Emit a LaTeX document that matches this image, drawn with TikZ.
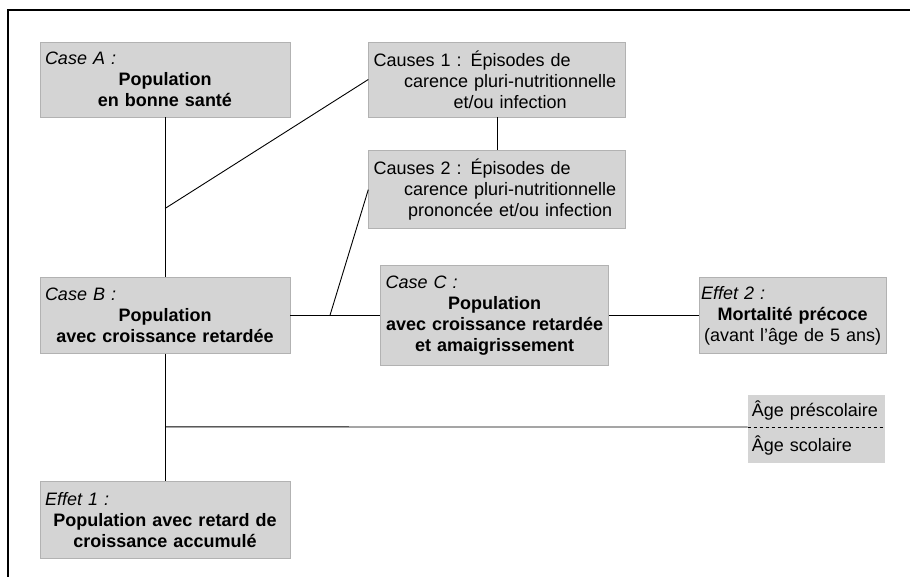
\documentclass[tikz,border=0pt]{standalone}
\usepackage{fontspec}
\setmainfont{Liberation Sans}
\usetikzlibrary{positioning,calc}

\begin{document}
\begin{tikzpicture}[
        x=1pt, y=1pt,
        every node/.style={font=\fontsize{18}{21}\selectfont},
        casebox/.style={rectangle, draw=black!30, line width=0.6pt, fill=black!17, align=center, inner xsep=5pt, inner ysep=6pt},
        agebox/.style={rectangle, fill=black!17, align=left, inner xsep=4pt, inner ysep=0pt, text width=129pt},
        link/.style={line width=0.9pt}
    ]
        \useasboundingbox (0,0) rectangle (910,-577);
        \draw[line width=1.6pt] (8,-577) -- (8,-10) -- (910,-10);

        \node[casebox, text width=240pt, minimum height=75pt] (caseA) at (165,-79.5)
            {{\itshape Case A :}\hfill\null\\ \textbf{Population}\\ \textbf{en bonne santé}};
        \node[casebox, text width=240pt, minimum height=76pt, below=160pt of caseA] (caseB)
            {{\itshape Case B :}\hfill\null\\ \textbf{Population}\\ \textbf{avec croissance retardée}};
        \node[casebox, text width=240pt, minimum height=77pt, below=127pt of caseB] (effet1)
            {{\itshape Effet 1 :}\hfill\null\\ \textbf{Population avec retard de}\\ \textbf{croissance accumulé}};
        \node[casebox, text width=247pt, minimum height=75pt, right=78pt of caseA] (causes1)
            {Causes 1 : Épisodes de\hfill\null\\ \hspace*{26pt}carence pluri-nutritionnelle\\ \hspace*{26pt}et/ou infection};
        \node[casebox, text width=247pt, minimum height=78pt, below=33pt of causes1] (causes2)
            {Causes 2 : Épisodes de\hfill\null\\ \hspace*{26pt}carence pluri-nutritionnelle\\ \hspace*{26pt}prononcée et/ou infection};
        \node[casebox, text width=218pt, minimum height=100pt, right=90pt of caseB] (caseC)
            {{\itshape Case C :}\hfill\null\\ \textbf{Population}\\ \textbf{avec croissance retardée}\\ \textbf{et amaigrissement}};
        \node[casebox, text width=183pt, inner xsep=2pt, minimum height=76pt, right=90pt of caseC] (effet2)
            {{\itshape Effet 2 :}\hfill\null\\ \textbf{Mortalité précoce}\\ (avant l’âge de 5 ans)};
        \node[agebox, minimum height=32pt, anchor=south east] (agepre) at (885,-427) {Âge préscolaire};
        \node[agebox, minimum height=36pt, below=0pt of agepre] (agesco) {Âge scolaire};

        % points de branchement
        \coordinate (jA) at ($(caseA.south)!0.57!(caseB.north)$);
        \coordinate (jB) at ($(caseB.east)!0.44!(caseC.west)$);
        \coordinate (jE) at ($(caseB.south)!0.575!(effet1.north)$);

        \draw[link] (caseA) -- (caseB);
        \draw[link] (jA) -- (causes1.west);
        \draw[link] (causes1) -- (causes2);
        \draw[link] (caseB) -- (caseC);
        \draw[link] (jB) -- (causes2.west);
        \draw[link] (caseC) -- (effet2);
        \draw[link] (caseB) -- (effet1);
        \draw[link] (jE) -- (agepre.south west);
        \draw[link, dashed] (agepre.south west) -- (agepre.south east);
    \end{tikzpicture}
\end{document}
